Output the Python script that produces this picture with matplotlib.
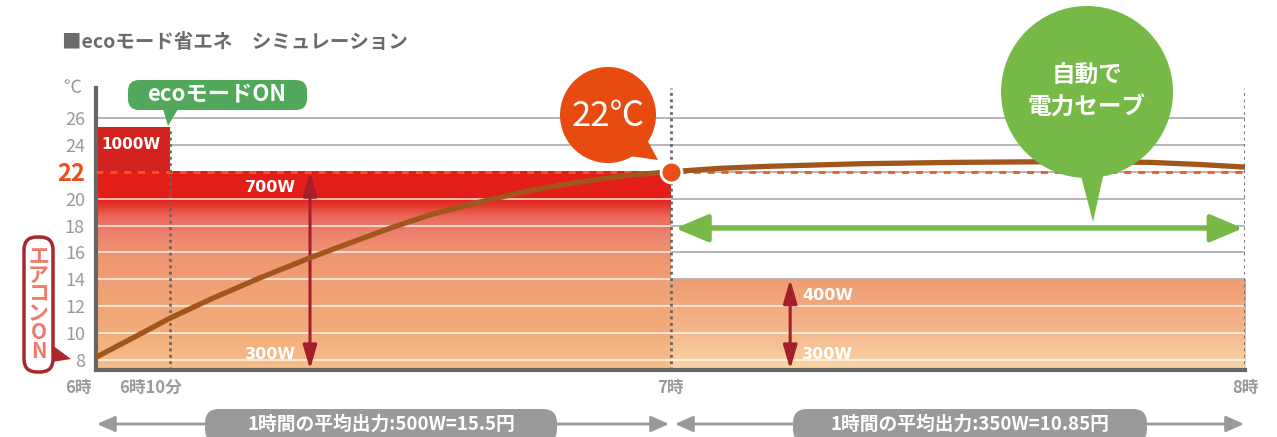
import matplotlib
matplotlib.use('Agg')
import matplotlib.pyplot as plt
import numpy as np
from matplotlib.colors import LinearSegmentedColormap
from matplotlib.patches import Circle, Polygon, FancyBboxPatch, FancyArrowPatch, Rectangle

plt.rcParams['font.family'] = ['Noto Sans CJK JP', 'DejaVu Sans']

# --- data (time in minutes after 6:00, temperature in ℃) ---
eco_on_time = 7.7
switch_time = 60
end_time = 120

curve_time = [0, 4, 7.7, 11.9, 17.1, 22.35, 26.5, 30.7, 34.9, 40.1, 45.3, 50.5, 55.8, 60,
              65, 70, 80, 90, 100, 110, 115, 120]
curve_temp = [8.2, 9.7, 11.1, 12.5, 14.1, 15.6, 16.7, 17.8, 18.8, 19.75, 20.6, 21.25, 21.75, 22.0,
              22.25, 22.4, 22.6, 22.7, 22.75, 22.7, 22.55, 22.35]

target_temp = 22
boost_top = 25.3     # 1000W phase
save_top = 14        # after 7時

y_ticks = [8, 10, 12, 14, 16, 18, 20, 22, 24, 26]
x_tick_pos = [0, 7.7, 60, 120]
x_tick_labels = ['6時', '6時10分', '7時', '8時']

watt_labels = ['1000W', '700W', '300W', '400W', '300W']
watt_pos = [(3.6, 24.0), (18.2, 20.8), (18.2, 8.4), (76.4, 12.8), (76.4, 8.4)]

arrow_left_x = 22.35
arrow_right_x = 72.5
save_arrow_temp = 17.8

cost_labels = ['1時間の平均出力:500W=15.5円', '1時間の平均出力:350W=10.85円']

y_min, y_max = 7.256, 28.23
W, H = 1277, 437

fig = plt.figure(figsize=(W / 100, H / 100), dpi=100)
ax = fig.add_axes([96 / W, (H - 370) / H, (1245 - 96) / W, (370 - 88) / H])

# gray grid
for t in y_ticks:
    ax.axhline(t, color='#b0b0b0', lw=1.3, zorder=0.5)

# gradient fill before 7時
left_stops = [(y_min, '#f6c08e'), (10, '#f3ad7c'), (14, '#f09e74'), (16, '#ef9371'),
              (17.5, '#ec806d'), (18.6, '#ea6b5c'), (19.5, '#e4382c'), (20, '#e31e18'),
              (22, '#e31e18')]
pos = [(s - y_min) / (22 - y_min) for s, _ in left_stops]
cmap_l = LinearSegmentedColormap.from_list('l', list(zip(pos, [c for _, c in left_stops])))
grad = np.linspace(0, 1, 256).reshape(-1, 1)
ax.imshow(grad, cmap=cmap_l, extent=(0, switch_time, y_min, target_temp), origin='lower',
          aspect='auto', interpolation='bilinear', zorder=1)
ax.add_patch(Rectangle((0, target_temp), eco_on_time, boost_top - target_temp,
                       color='#d22220', lw=0, zorder=1))

# gradient fill after 7時
cmap_r = LinearSegmentedColormap.from_list('r', ['#f9d6a8', '#f4b386', '#f09c72'])
ax.imshow(grad, cmap=cmap_r, extent=(switch_time, end_time, y_min, save_top), origin='lower',
          aspect='auto', interpolation='bilinear', zorder=1)

# white grid over fills
for t in y_ticks:
    if t < target_temp:
        ax.hlines(t, 0, switch_time, color='white', lw=1.3, alpha=0.75, zorder=2)
    if t < save_top:
        ax.hlines(t, switch_time, end_time, color='white', lw=1.3, alpha=0.75, zorder=2)

# target line
ax.hlines(target_temp, 0, end_time, color='#f05a22', lw=2, linestyles=(0, (2.5, 2.5)), zorder=3)

# dotted time markers
ax.vlines(eco_on_time, y_min, boost_top, color='#666666', lw=2, linestyles=(0, (1, 1.3)), zorder=3)
ax.vlines([switch_time, end_time], y_min, y_max, color='#666666', lw=2,
          linestyles=(0, (1, 1.3)), zorder=3)

# power arrows
for x0, top in [(arrow_left_x, target_temp), (arrow_right_x, save_top)]:
    ax.annotate('', xy=(x0, top), xytext=(x0, y_min + 0.05),
                arrowprops=dict(arrowstyle='<|-|>,head_length=1.2,head_width=0.35',
                                mutation_scale=12, color='#a31f2a', lw=2.2, shrinkA=0, shrinkB=0),
                zorder=4)

# green save arrow
ax.annotate('', xy=(end_time - 0.2, save_arrow_temp), xytext=(switch_time + 0.5, save_arrow_temp),
            arrowprops=dict(arrowstyle='<|-|>,head_length=1.0,head_width=0.42',
                            mutation_scale=20, color='#76b947', lw=3.5, shrinkA=0, shrinkB=0),
            zorder=4)

# temperature curve
ax.plot(curve_time, curve_temp, color='#a0561c', lw=3.8, zorder=5, solid_capstyle='butt',
        solid_joinstyle='round')
ax.plot([switch_time], [target_temp], 'o', ms=15, mfc='#e8501a', mec='white', mew=2, zorder=6)

# watt labels
for lab, (xx, yy) in zip(watt_labels, watt_pos):
    ax.text(xx, yy, lab, color='white', fontsize=11.5 if lab != '1000W' else 11,
            fontweight='bold', ha='center', va='center', zorder=6, family='DejaVu Sans')

ax.set_xlim(0, end_time)
ax.set_ylim(y_min, y_max)
ax.set_yticks(y_ticks)
ax.set_yticklabels([str(t) for t in y_ticks])
ax.tick_params(axis='y', length=0, pad=8, labelsize=13, labelcolor='#9a9a9a')
for lbl in ax.get_yticklabels():
    if lbl.get_text() == str(target_temp):
        lbl.set_color('#e8501a')
        lbl.set_fontsize(17)
        lbl.set_fontweight('bold')
ax.set_xticks([])
for s in ['top', 'right']:
    ax.spines[s].set_visible(False)
for s in ['left', 'bottom']:
    ax.spines[s].set_color('#666666')
    ax.spines[s].set_linewidth(3)
ax.set_facecolor('none')

# x tick labels
offsets = [(-3, 'right'), (9, 'right'), (0, 'center'), (0, 'center')]
for p, lab, (dx, ha) in zip(x_tick_pos, x_tick_labels, offsets):
    ax.annotate(lab, xy=(p, y_min), xytext=(dx, -13), textcoords='offset points',
                ha=ha, va='center', color='#9a9a9a', fontsize=12, fontweight='bold')

# ---- overlay in pixel coordinates for callouts ----
ov = fig.add_axes([0, 0, 1, 1], zorder=10)
ov.set_xlim(0, W)
ov.set_ylim(H, 0)
ov.axis('off')
ov.patch.set_alpha(0)

ov.text(62, 43, '■ecoモード省エネ　シミュレーション', color='#6b6b6b', fontsize=14,
        fontweight='bold', ha='left', va='center')
ov.text(72, 88, '℃', color='#9a9a9a', fontsize=13, ha='center', va='center')

# 22℃ bubble
ov.add_patch(Circle((608, 115), 48, color='#e84b0f', lw=0))
ov.add_patch(Polygon([(622, 155), (645, 136), (658, 160)], closed=True, color='#e84b0f', lw=0))
ov.text(608, 116, '22℃', color='white', fontsize=25, ha='center', va='center')

# green bubble
ov.add_patch(Circle((1087, 92), 86, color='#76b947', lw=0))
ov.add_patch(Polygon([(1080, 172), (1104, 172), (1093, 222)], closed=True, color='#76b947', lw=0))
ov.text(1087, 75, '自動で', color='white', fontsize=17, fontweight='bold', ha='center', va='center')
ov.text(1087, 108, '電力セーブ', color='white', fontsize=17, fontweight='bold', ha='center', va='center')

# ecoモードON tag
ov.add_patch(FancyBboxPatch((128, 80), 179, 30, boxstyle='round,pad=0,rounding_size=11',
                            fc='#52a85a', ec='none'))
ov.add_patch(Polygon([(163, 109), (178, 109), (168, 126)], closed=True, color='#52a85a', lw=0))
ov.text(217, 95, 'ecoモードON', color='white', fontsize=16, fontweight='bold',
        ha='center', va='center')

# エアコンON tag (vertical)
ov.add_patch(FancyBboxPatch((24, 237), 29, 135, boxstyle='round,pad=0,rounding_size=13',
                            fc='white', ec='#a8282c', lw=2.5))
ov.add_patch(Polygon([(52, 345), (71, 359), (52, 362)], closed=True, fc='#a8282c', lw=0))
ov.text(38.5, 304, 'エ\nア\nコ\nン\nO\nN', color='#ee7a6a', fontsize=15, fontweight='bold',
        ha='center', va='center', linespacing=0.88)

# bottom cost arrows & labels
for x0, x1 in [(97, 669), (675, 1244)]:
    ov.add_patch(FancyArrowPatch((x0, 424), (x1, 424),
                                 arrowstyle='<|-|>,head_length=0.9,head_width=0.4',
                                 mutation_scale=12, color='#9a9a9a', lw=2,
                                 shrinkA=0, shrinkB=0))
for (bx, bw), lab in zip([(205, 352), (793, 354)], cost_labels):
    ov.add_patch(FancyBboxPatch((bx, 409), bw, 34, boxstyle='round,pad=0,rounding_size=14',
                                fc='#9a9a9a', ec='none'))
    ov.text(bx + bw / 2, 424, lab, color='white', fontsize=13.5, fontweight='bold',
            ha='center', va='center')

fig.savefig('out.png', dpi=100)
